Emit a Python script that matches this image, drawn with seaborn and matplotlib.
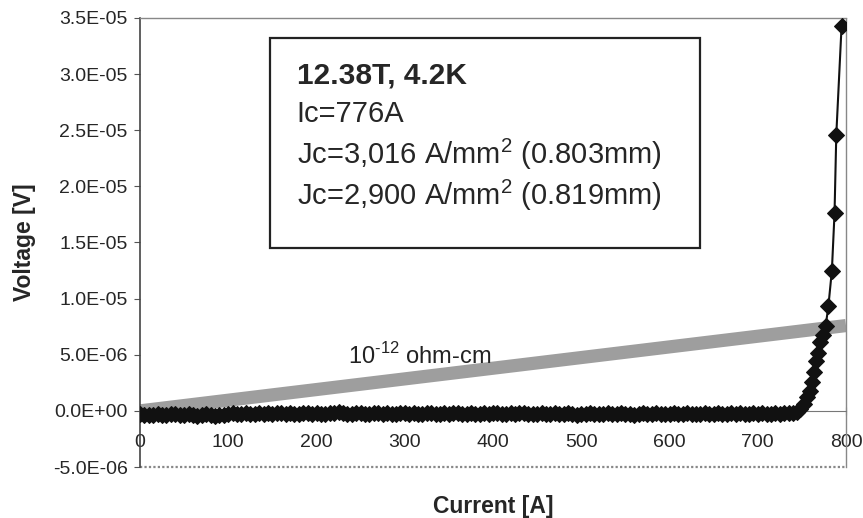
import numpy as np
import pandas as pd
import matplotlib
matplotlib.use("Agg")
import matplotlib.pyplot as plt
import seaborn as sns
from matplotlib.patches import Rectangle
from matplotlib.ticker import FixedLocator, FuncFormatter

# ---------------- data ----------------
# flat (superconducting) part, current in A, voltage in microvolts
flat_current = list(range(0, 750, 5))
flat_voltage_uv = [
    -0.30, -0.35, -0.40, -0.35, -0.30, -0.40, -0.35, -0.25, -0.30, -0.40,
    -0.35, -0.30, -0.40, -0.45, -0.35, -0.30, -0.35, -0.45, -0.40, -0.35,
    -0.30, -0.20, -0.25, -0.30, -0.20, -0.25, -0.30, -0.15, -0.25, -0.20,
    -0.30, -0.20, -0.15, -0.25, -0.20, -0.30, -0.25, -0.15, -0.20, -0.25,
    -0.20, -0.30, -0.25, -0.15, -0.20, -0.10, -0.20, -0.30, -0.25, -0.15,
    -0.20, -0.25, -0.30, -0.20, -0.15, -0.25, -0.20, -0.30, -0.25, -0.20,
    -0.15, -0.25, -0.20, -0.30, -0.25, -0.20, -0.15, -0.25, -0.30, -0.20,
    -0.25, -0.15, -0.20, -0.25, -0.30, -0.20, -0.25, -0.30, -0.20, -0.25,
    -0.15, -0.20, -0.30, -0.25, -0.20, -0.25, -0.15, -0.20, -0.25, -0.30,
    -0.25, -0.20, -0.30, -0.25, -0.20, -0.25, -0.30, -0.20, -0.25, -0.35,
    -0.30, -0.25, -0.20, -0.25, -0.30, -0.25, -0.20, -0.30, -0.25, -0.20,
    -0.30, -0.25, -0.35, -0.25, -0.20, -0.25, -0.30, -0.20, -0.25, -0.30,
    -0.25, -0.20, -0.30, -0.25, -0.20, -0.25, -0.30, -0.25, -0.20, -0.30,
    -0.25, -0.20, -0.25, -0.30, -0.20, -0.25, -0.20, -0.30, -0.25, -0.20,
    -0.25, -0.20, -0.30, -0.25, -0.20, -0.25, -0.20, -0.15, -0.20, -0.10,
]
# transition part
rise_current = [748, 752, 756, 759, 762, 764, 766, 768, 771, 774, 777,
                780, 784, 787, 789, 795]
rise_voltage_uv = [0.2, 0.6, 1.2, 1.8, 2.6, 3.5, 4.4, 5.2, 6.1, 6.8,
                   7.6, 9.3, 12.5, 17.6, 24.6, 34.3]

# 10^-12 ohm-cm criterion line
crit_current = [0, 800]
crit_voltage_uv = [0.0, 7.6]

y_ticks = [-5e-6, 0, 5e-6, 1e-5, 1.5e-5, 2e-5, 2.5e-5, 3e-5, 3.5e-5]
y_tick_labels = ["-5.0E-06", "0.0E+00", "5.0E-06", "1.0E-05", "1.5E-05",
                 "2.0E-05", "2.5E-05", "3.0E-05", "3.5E-05"]
x_ticks = [0, 100, 200, 300, 400, 500, 600, 700, 800]

box_lines = ["Ic=776A",
             r"Jc=3,016 A/mm$^2$ (0.803mm)",
             r"Jc=2,900 A/mm$^2$ (0.819mm)"]
box_title = "12.38T, 4.2K"
crit_label = r"10$^{\text{-12}}$ ohm-cm"

# ---------------- build frames ----------------
meas = pd.DataFrame({
    "current": flat_current + rise_current,
    "voltage": [v * 1e-6 for v in flat_voltage_uv + rise_voltage_uv],
})
crit = pd.DataFrame({"current": crit_current,
                     "voltage": [v * 1e-6 for v in crit_voltage_uv]})

# ---------------- plot ----------------
sns.set_style("white")
plt.rcParams["font.family"] = ["Liberation Sans", "DejaVu Sans"]
plt.rcParams["mathtext.fontset"] = "custom"
plt.rcParams["mathtext.rm"] = "Liberation Sans"

fig = plt.figure(figsize=(8.63, 5.18), dpi=100)
ax = fig.add_axes([140 / 863, 1 - 467 / 518, 706 / 863, 449 / 518])

sns.lineplot(data=crit, x="current", y="voltage", ax=ax, color="#9e9e9e",
             linewidth=9.5, solid_capstyle="butt", zorder=2, legend=False)
sns.lineplot(data=meas, x="current", y="voltage", ax=ax, color="#111111",
             linewidth=1.5, marker="D", markersize=8.5, markeredgecolor="#111111",
             estimator=None, sort=False, zorder=3, legend=False)

ax.set_xlim(0, 800)
ax.set_ylim(-5e-6, 3.5e-5)

ax.yaxis.set_major_locator(FixedLocator(y_ticks))
ax.yaxis.set_major_formatter(FuncFormatter(
    lambda v, p: y_tick_labels[min(range(len(y_ticks)), key=lambda i: abs(y_ticks[i] - v))]))
ax.xaxis.set_major_locator(FixedLocator(x_ticks))

ax.tick_params(axis="y", direction="out", length=4, width=0.8, color="#555555",
               labelsize=14, pad=5, left=True)
ax.tick_params(axis="x", direction="inout", length=6, width=0.8, color="#555555",
               labelsize=14, pad=14, bottom=True)

# spines: x axis crosses at zero, plot-area border dotted
ax.spines["bottom"].set_position(("data", 0))
ax.spines["bottom"].set_color("#777777")
ax.spines["bottom"].set_linewidth(0.8)
ax.spines["left"].set_color("#444444")
ax.spines["left"].set_linewidth(1.2)
for s in ["top", "right"]:
    ax.spines[s].set_color("#888888")
    ax.spines[s].set_linestyle((0, (1, 1)))
    ax.spines[s].set_linewidth(1.0)
ax.axhline(-5e-6, color="#888888", linestyle=(0, (1, 1)), linewidth=1.6,
           zorder=1, clip_on=False)

ax.set_xlabel("Current [A]", fontsize=16.5, fontweight="bold")
ax.set_ylabel("Voltage [V]", fontsize=16.5, fontweight="bold")
ax.xaxis.set_label_coords(0.5, -0.062)
ax.yaxis.set_label_coords(-0.148, 0.5)

ax.text(317, 4.9e-6, crit_label, fontsize=17, color="#222222",
        ha="center", va="center", zorder=4)

# info box
ax.add_patch(Rectangle((0.184, 0.487), 0.609, 0.469, transform=ax.transAxes,
                       facecolor="white", edgecolor="#222222", linewidth=1.6,
                       zorder=5))
ax.text(0.222, 0.871, box_title, transform=ax.transAxes, fontsize=21.5,
        fontweight="bold", va="center", ha="left", zorder=6)
for i, line in enumerate(box_lines):
    ax.text(0.222, [0.787, 0.696, 0.605][i], line, transform=ax.transAxes,
            fontsize=21, va="center", ha="left", zorder=6)

fig.savefig("out.png", dpi=100)
